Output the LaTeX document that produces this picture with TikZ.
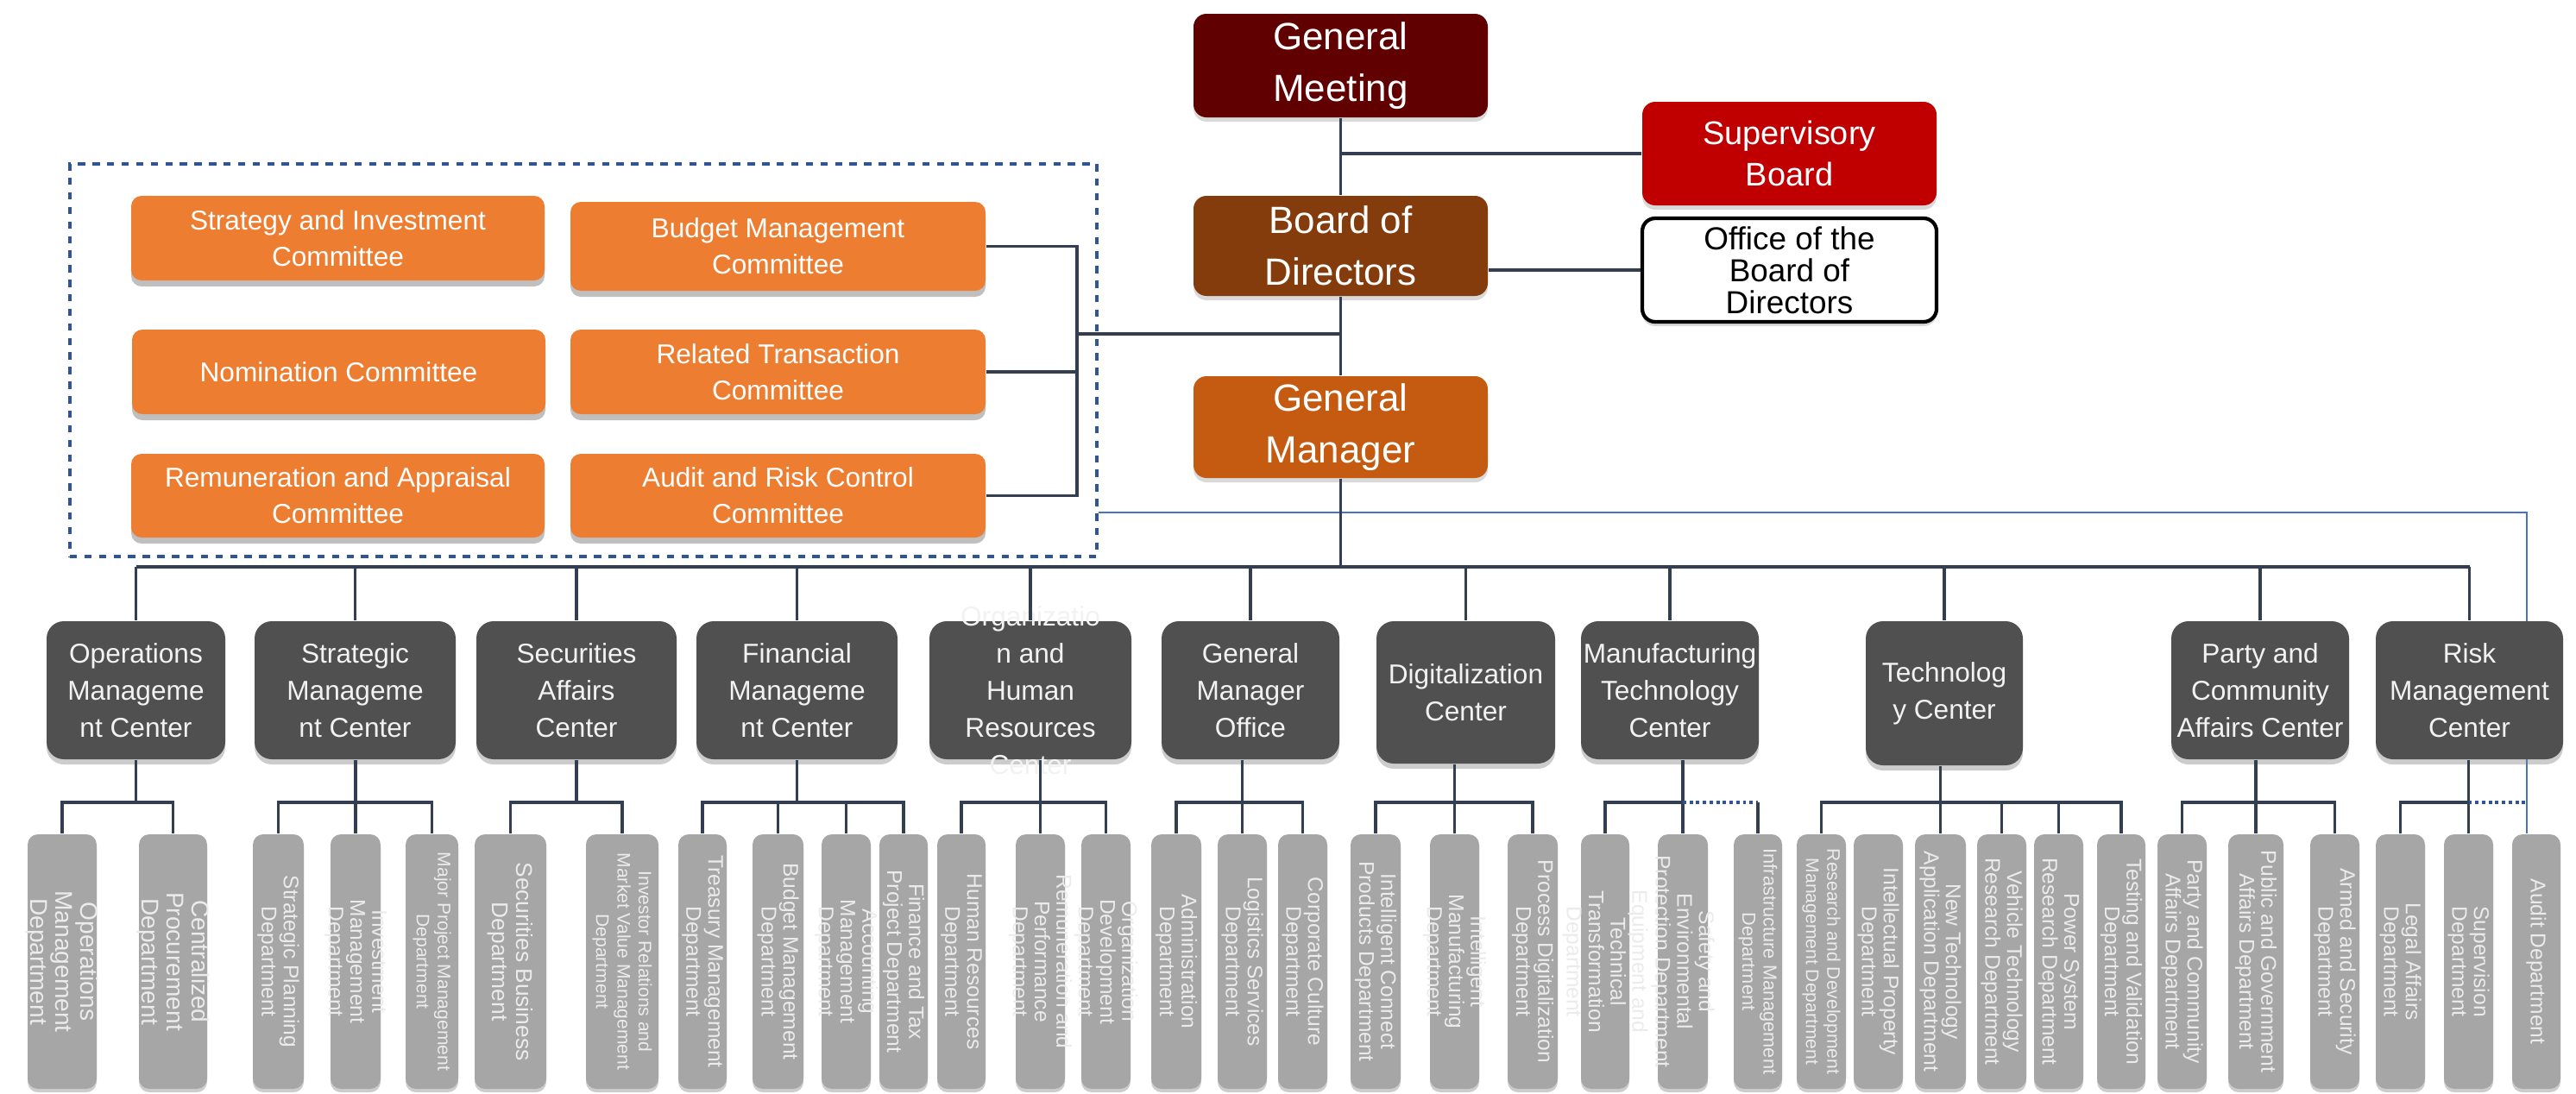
\documentclass[tikz,border=0pt]{standalone}
\usepackage{fontspec}
\setmainfont{Liberation Sans}
\usetikzlibrary{shadows,backgrounds}

\definecolor{meetred}{HTML}{600000}
\definecolor{boardbrown}{HTML}{843C0C}
\definecolor{supred}{HTML}{C00000}
\definecolor{managerorange}{HTML}{C55A11}
\definecolor{comorange}{HTML}{ED7D31}
\definecolor{centergray}{HTML}{505050}
\definecolor{deptgray}{HTML}{A6A6A6}
\definecolor{linenavy}{HTML}{333F50}
\definecolor{frameblue}{HTML}{2F5597}
\definecolor{auditblue}{HTML}{4472C4}

\begin{document}
\begin{tikzpicture}
   [
   topbox/.style={rectangle, rounded corners=0.15cm, text=white, align=center, minimum width=3.41cm, minimum height=1.2cm, inner sep=0pt, font=\fontsize{12.5}{17}\selectfont, drop shadow={shadow xshift=0pt, shadow yshift=-0.05cm, opacity=0.3}},
   sidebox/.style={topbox, font=\fontsize{10.8}{13.7}\selectfont},
   committee/.style={rectangle, rounded corners=0.12cm, fill=comorange, text=white, align=center, minimum width=4.79cm, minimum height=0.98cm, inner sep=0pt, font=\fontsize{9}{12}\selectfont, drop shadow={shadow xshift=0pt, shadow yshift=-0.07cm, opacity=0.5}},
   centerbox/.style={rectangle, rounded corners=0.2cm, fill=centergray, text=white!95!black, align=center, minimum height=1.6cm, inner sep=0pt, font=\fontsize{9}{12.2}\selectfont, drop shadow={shadow xshift=0pt, shadow yshift=-0.06cm, opacity=0.4}},
   centertext/.style={align=center, text=white!95!black, font=\fontsize{9}{12.2}\selectfont, inner sep=0pt, anchor=center},
   deptbox/.style={rectangle, rounded corners=0.12cm, fill=deptgray, minimum width=0.57cm, minimum height=2.95cm, inner sep=0pt, drop shadow={shadow xshift=0pt, shadow yshift=-0.04cm, opacity=0.4}},
   depttext/.style={rotate=-90, align=center, text=white!92!black, font=\fontsize{7}{7.2}\selectfont, inner sep=0pt, anchor=center},
   link/.style={draw=linenavy, line width=1.1pt},
   dottedlink/.style={draw=frameblue, line width=1.1pt, dash pattern=on 1.1pt off 1.1pt},
   auditlink/.style={draw=auditblue, line width=0.8pt},
   dashedframe/.style={rectangle, draw=frameblue, line width=1.1pt, dash pattern=on 2.4pt off 2.4pt, minimum width=11.9cm, minimum height=4.55cm, inner sep=0pt},
   ]
 \useasboundingbox (0,0) rectangle (29.85,-12.67);

 % top of the chart
 \node at (15.535,-0.76) [topbox, fill=meetred] (meeting) {General\\Meeting};
 \node at (15.535,-2.85) [topbox, fill=boardbrown, minimum height=1.16cm] (board) {Board of\\Directors};
 \node at (15.535,-4.95) [topbox, fill=managerorange, minimum height=1.18cm] (manager) {General\\Manager};
 \node at (20.735,-1.78) [sidebox, fill=supred] (supervisory) {Supervisory\\Board};
 \node at (20.735,-3.13) [sidebox, fill=white, draw=black, line width=1.2pt, text=black, font=\fontsize{10.5}{10.5}\selectfont] (office) {Office of the\\Board of\\Directors};

 % committees
 \node at (6.76,-4.175) [dashedframe] (cframe) {};
 \node at (3.915,-2.76) [committee] (cstrat) {Strategy and Investment\\Committee};
 \node at (9.015,-2.855) [committee, minimum width=4.81cm, minimum height=1.03cm] (cbudget) {Budget Management\\Committee};
 \node at (3.925,-4.31) [committee] (cnomin) {Nomination Committee};
 \node at (9.015,-4.31) [committee, minimum width=4.81cm] (crelated) {Related Transaction\\Committee};
 \node at (3.915,-5.745) [committee, minimum height=0.97cm] (cremun) {Remuneration and Appraisal\\Committee};
 \node at (9.015,-5.745) [committee, minimum width=4.81cm, minimum height=0.97cm] (caudit) {Audit and Risk Control\\Committee};

 % centers
 \node at (1.575,-8.0) [centerbox, minimum width=2.07cm] (opsc) {Operations\\Manageme\\nt Center};
 \node at (4.115,-8.0) [centerbox, minimum width=2.33cm] (stratc) {Strategic\\Manageme\\nt Center};
 \node at (6.68,-8.0) [centerbox, minimum width=2.32cm] (secc) {Securities\\Affairs\\Center};
 \node at (9.235,-8.0) [centerbox, minimum width=2.33cm] (finc) {Financial\\Manageme\\nt Center};
 \node at (11.94,-8.0) [centerbox, minimum width=2.34cm, label={[centertext]center:{Organizatio\\n and\\Human\\Resources\\Center}}] (orgc) {};
 \node at (14.49,-8.0) [centerbox, minimum width=2.06cm] (gmoc) {General\\Manager\\Office};
 \node at (16.985,-8.025) [centerbox, minimum width=2.07cm, minimum height=1.65cm] (digc) {Digitalization\\Center};
 \node at (19.35,-8.0) [centerbox, minimum width=2.06cm] (mfgc) {Manufacturing\\Technology\\Center};
 \node at (22.53,-8.035) [centerbox, minimum width=1.82cm, minimum height=1.67cm] (techc) {Technolog\\y Center};
 \node at (26.19,-8.0) [centerbox, minimum width=2.06cm] (partyc) {Party and\\Community\\Affairs Center};
 \node at (28.615,-8.0) [centerbox, minimum width=2.17cm] (riskc) {Risk\\Management\\Center};

 % departments
 \node at (0.72,-11.145) [deptbox, minimum width=0.80cm, label={[depttext, font=\fontsize{8}{8.2}\selectfont]center:{Operations\\Management\\Department}}] (opsdept) {};
 \node at (2.005,-11.145) [deptbox, minimum width=0.79cm, label={[depttext, font=\fontsize{8}{8.2}\selectfont]center:{Centralized\\Procurement\\Department}}] (procdept) {};
 \node at (3.225,-11.145) [deptbox, minimum width=0.59cm, label={[depttext]center:{Strategic Planning\\Department}}] (planning) {};
 \node at (4.12,-11.145) [deptbox, minimum width=0.58cm, label={[depttext]center:{Investment\\Management\\Department}}] (investment) {};
 \node at (5.005,-11.145) [deptbox, minimum width=0.61cm, label={[depttext, font=\fontsize{6}{7}\selectfont]center:{Major Project Management\\Department}}] (majorproj) {};
 \node at (5.915,-11.145) [deptbox, minimum width=0.83cm, label={[depttext, font=\fontsize{7.5}{8}\selectfont]center:{Securities Business\\Department}}] (secbiz) {};
 \node at (7.21,-11.145) [deptbox, minimum width=0.84cm, label={[depttext, font=\fontsize{6}{7}\selectfont]center:{Investor Relations and\\Market Value Management\\Department}}] (investor) {};
 \node at (8.14,-11.145) [deptbox, minimum width=0.56cm, label={[depttext]center:{Treasury Management\\Department}}] (treasury) {};
 \node at (9.015,-11.145) [deptbox, minimum width=0.59cm, label={[depttext]center:{Budget Management\\Department}}] (budgetdept) {};
 \node at (9.805,-11.145) [deptbox, label={[depttext]center:{Accounting\\Management\\Department}}] (accounting) {};
 \node at (10.47,-11.145) [deptbox, minimum width=0.56cm, label={[depttext]center:{Finance and Tax\\Project Department}}] (fintax) {};
 \node at (11.14,-11.145) [deptbox, minimum width=0.56cm, label={[depttext]center:{Human Resources\\Department}}] (hrdept) {};
 \node at (12.055,-11.145) [deptbox, label={[depttext]center:{Remuneration and\\Performance\\Department}}] (remundept) {};
 \node at (12.815,-11.145) [deptbox, label={[depttext]center:{Organization\\Development\\Department}}] (orgdev) {};
 \node at (13.63,-11.145) [deptbox, minimum width=0.58cm, label={[depttext]center:{Administration\\Department}}] (admin) {};
 \node at (14.395,-11.145) [deptbox, label={[depttext]center:{Logistics Services\\Department}}] (logistics) {};
 \node at (15.095,-11.145) [deptbox, label={[depttext]center:{Corporate Culture\\Department}}] (culture) {};
 \node at (15.94,-11.145) [deptbox, minimum width=0.58cm, label={[depttext]center:{Intelligent Connect\\Products Department}}] (iconnect) {};
 \node at (16.855,-11.145) [deptbox, label={[depttext]center:{Intelligent\\Manufacturing\\Department}}] (imanuf) {};
 \node at (17.76,-11.145) [deptbox, minimum width=0.58cm, label={[depttext]center:{Process Digitalization\\Department}}] (procdig) {};
 \node at (18.60,-11.145) [deptbox, minimum width=0.56cm, label={[depttext]center:{Equipment and\\Technical\\Transformation\\Department}}] (techtrans) {};
 \node at (19.50,-11.145) [deptbox, minimum width=0.58cm, label={[depttext]center:{Safety and\\Environmental\\Protection Department}}] (safety) {};
 \node at (20.37,-11.145) [deptbox, minimum width=0.56cm, label={[depttext, font=\fontsize{6.2}{7}\selectfont]center:{Infrastructure Management\\Department}}] (infra) {};
 \node at (21.105,-11.145) [deptbox, label={[depttext, font=\fontsize{6}{7}\selectfont]center:{Research and Development\\Management Department}}] (rnd) {};
 \node at (21.765,-11.145) [deptbox, label={[depttext]center:{Intellectual Property\\Department}}] (ip) {};
 \node at (22.485,-11.145) [deptbox, minimum width=0.59cm, label={[depttext]center:{New Technology\\Application Department}}] (newtech) {};
 \node at (23.195,-11.145) [deptbox, label={[depttext]center:{Vehicle Technology\\Research Department}}] (vehicle) {};
 \node at (23.855,-11.145) [deptbox, label={[depttext]center:{Power System\\Research Department}}] (power) {};
 \node at (24.58,-11.145) [deptbox, minimum width=0.56cm, label={[depttext]center:{Testing and Validation\\Department}}] (testing) {};
 \node at (25.285,-11.145) [deptbox, label={[depttext]center:{Party and Community\\Affairs Department}}] (partydept) {};
 \node at (26.14,-11.145) [deptbox, minimum width=0.64cm, label={[depttext]center:{Public and Government\\Affairs Department}}] (public) {};
 \node at (27.055,-11.145) [deptbox, label={[depttext]center:{Armed and Security\\Department}}] (armed) {};
 \node at (27.815,-11.145) [deptbox, label={[depttext]center:{Legal Affairs\\Department}}] (legal) {};
 \node at (28.605,-11.145) [deptbox, label={[depttext]center:{Supervision\\Department}}] (supervision) {};
 \node at (29.39,-11.145) [deptbox, minimum width=0.56cm, label={[depttext]center:{Audit Department}}] (auditdept) {};

 % connectors
 \coordinate (bus) at (15.535,-6.57);
 \coordinate (bry) at (15.535,-9.3);
 \coordinate (brk) at (12.48,-3.87);
 \coordinate (bluecorner) at (29.28,-5.94);
 \draw[link] (meeting.south) -- (board.north) (board.south) -- (manager.north) (manager.south) -- (bus);
 \draw[link] (supervisory.west) -- (supervisory.west -| meeting.south);
 \draw[link] (office.west) -- (office.west -| board.east);
 \draw[link] (cbudget.east) -| (brk) |- (caudit.east);
 \draw[link] (crelated.east) -- (crelated.east -| brk);
 \draw[link] (brk) -- (brk -| manager.south);
 \draw[link] (opsc.north |- bus) -- (riskc.north |- bus);
 \draw[link] (opsc.north |- bus) -- (opsc.north) (stratc.north |- bus) -- (stratc.north)
   (secc.north |- bus) -- (secc.north) (finc.north |- bus) -- (finc.north)
   (orgc.north |- bus) -- (orgc.north) (gmoc.north |- bus) -- (gmoc.north)
   (digc.north |- bus) -- (digc.north) (mfgc.north |- bus) -- (mfgc.north)
   (techc.north |- bus) -- (techc.north) (partyc.north |- bus) -- (partyc.north)
   (riskc.north |- bus) -- (riskc.north);
 \begin{scope}[on background layer]
 \draw[auditlink] (cframe.east |- bluecorner) -- (bluecorner) -- (bluecorner |- auditdept.north);
 \end{scope}

 % branches to departments
 \draw[link] (opsc.south) -- (opsc.south |- bry);
 \draw[link] (opsdept.north) |- (procdept.north |- bry) -- (procdept.north);
 \draw[link] (planning.north) |- (majorproj.north |- bry) -- (majorproj.north);
 \draw[link] (investment.north |- stratc.south) -- (investment.north);
 \draw[link] (secc.south) -- (secc.south |- bry);
 \draw[link] (secbiz.north) |- (investor.north |- bry) -- (investor.north);
 \draw[link] (finc.south) -- (finc.south |- bry);
 \draw[link] (treasury.north) |- (fintax.north |- bry) -- (fintax.north);
 \draw[link] (budgetdept.north |- bry) -- (budgetdept.north) (accounting.north |- bry) -- (accounting.north);
 \draw[link] (hrdept.north) |- (orgdev.north |- bry) -- (orgdev.north);
 \draw[link] (remundept.north |- orgc.south) -- (remundept.north);
 \draw[link] (admin.north) |- (culture.north |- bry) -- (culture.north);
 \draw[link] (logistics.north |- gmoc.south) -- (logistics.north);
 \draw[link] (iconnect.north) |- (procdig.north |- bry) -- (procdig.north);
 \draw[link] (imanuf.north |- digc.south) -- (imanuf.north);
 \draw[link] (techtrans.north) |- (safety.north |- bry);
 \draw[link] (safety.north |- mfgc.south) -- (safety.north);
 \draw[dottedlink] (safety.north |- bry) -- (infra.north |- bry);
 \draw[link] (infra.north |- bry) -- (infra.north);
 \draw[link] (rnd.north) |- (testing.north |- bry) -- (testing.north);
 \draw[link] (newtech.north |- techc.south) -- (newtech.north);
 \draw[link] (vehicle.north |- bry) -- (vehicle.north) (power.north |- bry) -- (power.north);
 \draw[link] (partydept.north) |- (armed.north |- bry) -- (armed.north);
 \draw[link] (public.north |- partyc.south) -- (public.north);
 \draw[link] (legal.north) |- (supervision.north |- bry);
 \draw[link] (supervision.north |- riskc.south) -- (supervision.north);
 \draw[dottedlink] (supervision.north |- bry) -- (bluecorner |- bry);
\end{tikzpicture}
\end{document}
